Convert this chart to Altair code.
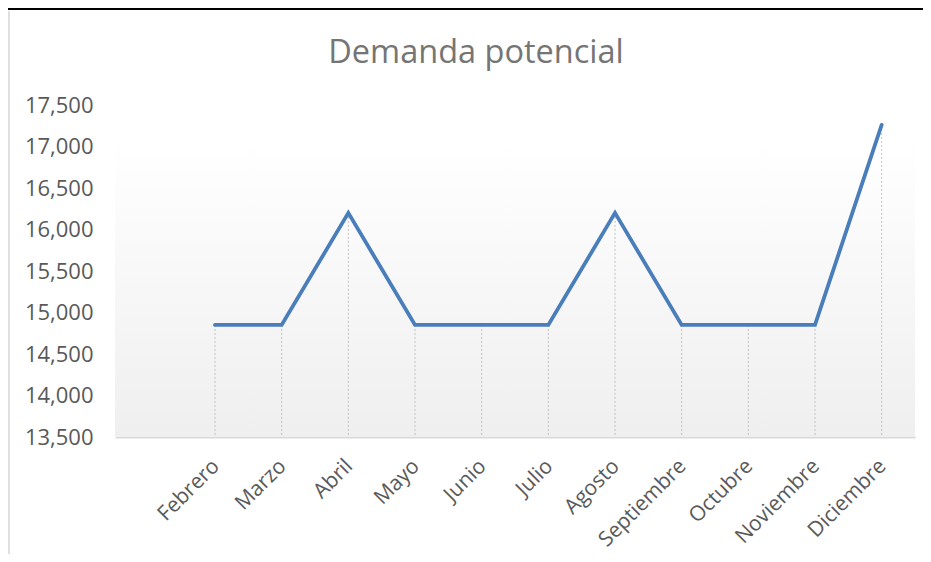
import altair as alt
import pandas as pd

# Data
months = ["", "Febrero", "Marzo", "Abril", "Mayo", "Junio", "Julio",
          "Agosto", "Septiembre", "Octubre", "Noviembre", "Diciembre"]
values = [None, 14850, 14850, 16200, 14850, 14850, 14850,
          16200, 14850, 14850, 14850, 17260]
y_ticks = [13500, 14000, 14500, 15000, 15500, 16000, 16500, 17000, 17500]
title_text = "Demanda potencial"

df = pd.DataFrame({"mes": months, "valor": values}).dropna()

PW, PH = 800, 332
FONT = "Open Sans"

x_enc = alt.X(
    "mes:N",
    sort=months,
    scale=alt.Scale(domain=months, type="point", padding=0.5),
    axis=alt.Axis(
        title=None, labelAngle=-45, ticks=False, domain=True,
        domainColor="#d9d9d9", domainWidth=2,
        labelFont=FONT, labelFontSize=21, labelColor="#595959",
        labelPadding=18, labelOffset=-7,
    ),
)
y_enc = alt.Y(
    "valor:Q",
    scale=alt.Scale(domain=[13500, 17500], nice=False, zero=False),
    axis=alt.Axis(
        title=None, values=y_ticks, format=",.0f", grid=False, ticks=False,
        domain=False, labelFont=FONT, labelFontSize=22, labelColor="#595959",
        labelPadding=22,
    ),
)

base = alt.Chart(df)

bg = alt.Chart(pd.DataFrame({"a": [0]})).mark_rect(
    fill=alt.Gradient(
        gradient="linear", x1=0, y1=0, x2=0, y2=1,
        stops=[alt.GradientStop(color="#ffffff", offset=0),
               alt.GradientStop(color="#efefef", offset=1)],
    )
).encode(x=alt.value(0), x2=alt.value(PW), y=alt.value(37), y2=alt.value(PH))

drops = base.mark_rule(color="#c0c0c0", strokeDash=[2, 2], strokeWidth=1).encode(
    x=x_enc, y=y_enc, y2=alt.datum(13500)
)

line = base.mark_line(color="#4a7ebb", strokeWidth=3.8, strokeCap="round",
                      strokeJoin="miter").encode(x=x_enc, y=y_enc)

title = alt.Chart(pd.DataFrame({"t": [title_text]})).mark_text(
    font=FONT, fontSize=32.5, color="#757575", align="center", baseline="middle"
).encode(text="t:N", x=alt.value(361), y=alt.value(-52))

# page decoration (document table borders)
top_border = alt.Chart(pd.DataFrame({"a": [0]})).mark_rule(
    color="#000000", strokeWidth=2
).encode(x=alt.value(-107), x2=alt.value(820), y=alt.value(-96))
left_border = alt.Chart(pd.DataFrame({"a": [0]})).mark_rule(
    color="#e0e0e0", strokeWidth=2
).encode(x=alt.value(-106), y=alt.value(-94), y2=alt.value(460))

chart = alt.layer(bg, drops, line, title, top_border, left_border).properties(
    width=PW, height=PH,
    autosize=alt.AutoSizeParams(type="none"),
    padding={"left": 107, "top": 97, "right": 8, "bottom": 117},
    background="white",
).configure_view(stroke=None)

chart.save("out.html", embed_options={"renderer": "svg", "actions": False})
